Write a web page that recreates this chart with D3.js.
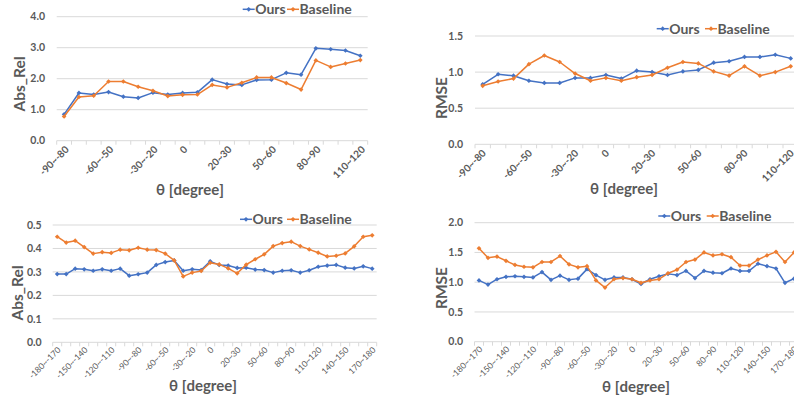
<!DOCTYPE html>
<html>
<head>
<meta charset="utf-8">
<script src="https://cdn.jsdelivr.net/npm/d3@7/dist/d3.min.js"></script>
<style>
  body { margin: 0; background: #fff; }
  svg { display: block; }
  text { font-family: Lato, "Open Sans", sans-serif; fill: #595959; }
</style>
</head>
<body>
<svg id="chart" width="794" height="399"></svg>
<script>
// ---- Angle bins (x categories) ----
const binsHalf = ["-90~-80","-80~-70","-70~-60","-60~-50","-50~-40","-40~-30","-30~-20","-20~-10","0",
  "0~10","10~20","20~30","30~40","40~50","50~60","60~70","70~80","80~90","90~100","100~110","110~120"];
const ticksHalf = ["-90~-80","-60~-50","-30~-20","0","20~30","50~60","80~90","110~120"];

const binsFull = ["-180~-170","-170~-160","-160~-150","-150~-140","-140~-130","-130~-120","-120~-110",
  "-110~-100","-100~-90","-90~-80","-80~-70","-70~-60","-60~-50","-50~-40","-40~-30","-30~-20","-20~-10","0",
  "0~10","10~20","20~30","30~40","40~50","50~60","60~70","70~80","80~90","90~100","100~110","110~120",
  "120~130","130~140","140~150","150~160","160~170","170~180"];
const ticksFull = ["-180~-170","-150~-140","-120~-110","-90~-80","-60~-50","-30~-20","0","20~30","50~60",
  "80~90","110~120","140~150","170~180"];

// ---- Series values ----
const absRelHalfOurs = [0.85,1.54,1.49,1.57,1.42,1.38,1.55,1.49,1.54,1.56,1.97,1.83,1.80,1.96,1.97,2.19,2.13,2.98,2.95,2.91,2.74];
const absRelHalfBase = [0.78,1.41,1.45,1.91,1.91,1.74,1.61,1.44,1.48,1.49,1.80,1.72,1.87,2.04,2.04,1.86,1.65,2.59,2.38,2.49,2.60];

const rmseHalfOurs = [0.83,0.97,0.95,0.88,0.85,0.85,0.92,0.92,0.96,0.91,1.02,1.00,0.96,1.01,1.03,1.13,1.15,1.21,1.21,1.24,1.19];
const rmseHalfBase = [0.81,0.87,0.91,1.11,1.23,1.14,0.98,0.88,0.92,0.88,0.93,0.96,1.06,1.14,1.12,1.01,0.95,1.08,0.95,1.00,1.08];

const absRelFullOurs = [0.291,0.291,0.314,0.311,0.305,0.311,0.305,0.314,0.284,0.290,0.297,0.330,0.342,0.349,0.305,0.311,
  0.308,0.345,0.330,0.327,0.317,0.318,0.310,0.308,0.297,0.305,0.307,0.297,0.307,0.322,0.327,0.330,0.318,0.315,0.324,0.314];
const absRelFullBase = [0.450,0.425,0.433,0.406,0.378,0.384,0.381,0.395,0.392,0.403,0.395,0.393,0.378,0.349,0.281,0.297,
  0.304,0.339,0.332,0.315,0.294,0.331,0.354,0.375,0.410,0.423,0.429,0.410,0.396,0.382,0.366,0.369,0.379,0.409,0.450,0.456];

const rmseFullOurs = [1.03,0.96,1.05,1.09,1.10,1.09,1.08,1.17,1.04,1.11,1.04,1.06,1.22,1.12,1.04,1.08,1.08,1.05,0.97,1.05,
  1.10,1.14,1.12,1.19,1.07,1.19,1.16,1.15,1.23,1.19,1.19,1.31,1.27,1.23,0.99,1.06];
const rmseFullBase = [1.57,1.41,1.43,1.36,1.29,1.26,1.25,1.34,1.34,1.44,1.30,1.25,1.27,1.03,0.91,1.05,1.07,1.05,0.99,1.03,
  1.05,1.15,1.21,1.34,1.38,1.50,1.45,1.47,1.42,1.28,1.28,1.38,1.45,1.51,1.34,1.50];

const yTicksAbsHalf = [0, 1, 2, 3, 4];
const yTicksRmseHalf = [0, 0.5, 1, 1.5];
const yTicksAbsFull = [0, 0.1, 0.2, 0.3, 0.4, 0.5];
const yTicksRmseFull = [0, 0.5, 1, 1.5, 2];

const seriesNames = ["Ours", "Baseline"];
const colors = { Ours: "#4472C4", Baseline: "#ED7D31" };

const svg = d3.select("#chart");

function drawPanel(cfg) {
  const g = svg.append("g");
  const x = d3.scaleBand().domain(cfg.bins).range([cfg.left, cfg.right]).padding(0);
  const y = d3.scaleLinear().domain([0, d3.max(cfg.yTicks)]).range([cfg.bottom, cfg.top]);
  const cx = d => x(d) + x.bandwidth() / 2;

  // horizontal gridlines
  g.append("g").selectAll("line").data(cfg.yTicks.filter(v => v > 0)).join("line")
    .attr("x1", cfg.left).attr("x2", cfg.right)
    .attr("y1", d => y(d)).attr("y2", d => y(d))
    .attr("stroke", "#D9D9D9").attr("stroke-width", 1);

  // y tick labels
  g.append("g").selectAll("text").data(cfg.yTicks).join("text")
    .attr("x", cfg.yLabelRight).attr("y", d => y(d)).attr("dy", "0.35em")
    .attr("text-anchor", "end").attr("font-size", cfg.yTickFont).attr("font-weight", "bold")
    .text(d3.format(cfg.yFormat));

  // x axis line with boundary ticks
  g.append("line").attr("x1", cfg.left).attr("x2", cfg.right)
    .attr("y1", y(0)).attr("y2", y(0)).attr("stroke", "#D9D9D9").attr("stroke-width", 1);
  const bounds = cfg.bins.map(b => x(b)).concat([cfg.right]);
  g.append("g").selectAll("line").data(bounds).join("line")
    .attr("x1", d => d).attr("x2", d => d)
    .attr("y1", y(0)).attr("y2", y(0) + 4)
    .attr("stroke", "#D9D9D9").attr("stroke-width", 1);

  // rotated category labels
  g.append("g").selectAll("text").data(cfg.xTicks).join("text")
    .attr("transform", d => `translate(${cx(d) + cfg.xLabelDx},${y(0) + cfg.xLabelDy}) rotate(-45)`)
    .attr("text-anchor", "end").attr("dy", "0.35em")
    .attr("font-size", cfg.xTickFont).attr("font-weight", cfg.xTickWeight)
    .text(d => d);

  // axis titles
  g.append("text")
    .attr("transform", `translate(${cfg.yTitleX},${cfg.yTitleY}) rotate(-90)`)
    .attr("text-anchor", "middle").attr("dy", "0.35em")
    .attr("font-size", 15.5).attr("font-weight", "bold").text(cfg.yTitle);
  g.append("text").attr("x", cfg.xTitleX).attr("y", cfg.xTitleY)
    .attr("text-anchor", "middle").attr("font-size", 15).attr("font-weight", "bold")
    .text("θ [degree]");

  // lines and markers
  const line = d3.line().x((d, i) => cx(cfg.bins[i])).y(d => y(d));
  const sym = d3.symbol().type(d3.symbolSquare).size(11);
  const plot = g.append("g");
  [["Ours", cfg.ours], ["Baseline", cfg.base]].forEach(([name, vals]) => {
    plot.append("path").datum(vals).attr("d", line)
      .attr("fill", "none").attr("stroke", colors[name]).attr("stroke-width", 1.5)
      .attr("stroke-linejoin", "round");
    plot.append("g").selectAll("path").data(vals).join("path")
      .attr("transform", (d, i) => `translate(${cx(cfg.bins[i])},${y(d)}) rotate(45)`)
      .attr("d", sym).attr("fill", colors[name]);
  });

  // legend
  const leg = g.append("g");
  seriesNames.forEach((name, i) => {
    const lx = cfg.legend[i];
    leg.append("line").attr("x1", lx).attr("x2", lx + 12)
      .attr("y1", cfg.legendY).attr("y2", cfg.legendY)
      .attr("stroke", colors[name]).attr("stroke-width", 1.5);
    leg.append("path").attr("transform", `translate(${lx + 6},${cfg.legendY}) rotate(45)`)
      .attr("d", sym).attr("fill", colors[name]);
    leg.append("text").attr("x", lx + 12.5).attr("y", cfg.legendY).attr("dy", "0.36em")
      .attr("font-size", 14).attr("font-weight", "bold").text(name);
  });
}

// top-left: Abs_Rel over -90..120
drawPanel({
  bins: binsHalf, xTicks: ticksHalf, ours: absRelHalfOurs, base: absRelHalfBase,
  yTicks: yTicksAbsHalf, yFormat: ".1f", yTitle: "Abs_Rel",
  left: 56.7, right: 367.7, top: 16.7, bottom: 140.7,
  yLabelRight: 45, yTickFont: 10.5, xTickFont: 10, xTickWeight: "bold", xLabelDx: 3, xLabelDy: 7,
  yTitleX: 20, yTitleY: 84, xTitleX: 190, xTitleY: 195,
  legend: [242.7, 287], legendY: 9.3
});

// top-right: RMSE over -90..120
drawPanel({
  bins: binsHalf, xTicks: ticksHalf, ours: rmseHalfOurs, base: rmseHalfBase,
  yTicks: yTicksRmseHalf, yFormat: ".1f", yTitle: "RMSE",
  left: 475, right: 798.4, top: 36, bottom: 144.3,
  yLabelRight: 463, yTickFont: 10.5, xTickFont: 10, xTickWeight: "bold", xLabelDx: 1.5, xLabelDy: 7,
  yTitleX: 442, yTitleY: 98, xTitleX: 624, xTitleY: 194,
  legend: [656.7, 705], legendY: 28.7
});

// bottom-left: Abs_Rel over the full circle
drawPanel({
  bins: binsFull, xTicks: ticksFull, ours: absRelFullOurs, base: absRelFullBase,
  yTicks: yTicksAbsFull, yFormat: ".1f", yTitle: "Abs_Rel",
  left: 52.7, right: 376.7, top: 225, bottom: 342.3,
  yLabelRight: 41.7, yTickFont: 10.5, xTickFont: 8.5, xTickWeight: "normal", xLabelDx: 2, xLabelDy: 6,
  yTitleX: 18, yTitleY: 293, xTitleX: 203, xTitleY: 391,
  legend: [240, 287], legendY: 219.3
});

// bottom-right: RMSE over the full circle
drawPanel({
  bins: binsFull, xTicks: ticksFull, ours: rmseFullOurs, base: rmseFullBase,
  yTicks: yTicksRmseFull, yFormat: ".1f", yTitle: "RMSE",
  left: 474.5, right: 798.5, top: 222.7, bottom: 341.7,
  yLabelRight: 463, yTickFont: 10.5, xTickFont: 8.5, xTickWeight: "normal", xLabelDx: 2, xLabelDy: 6,
  yTitleX: 442, yTitleY: 288, xTitleX: 636, xTitleY: 392,
  legend: [658.3, 706.7], legendY: 216
});
</script>
</body>
</html>
